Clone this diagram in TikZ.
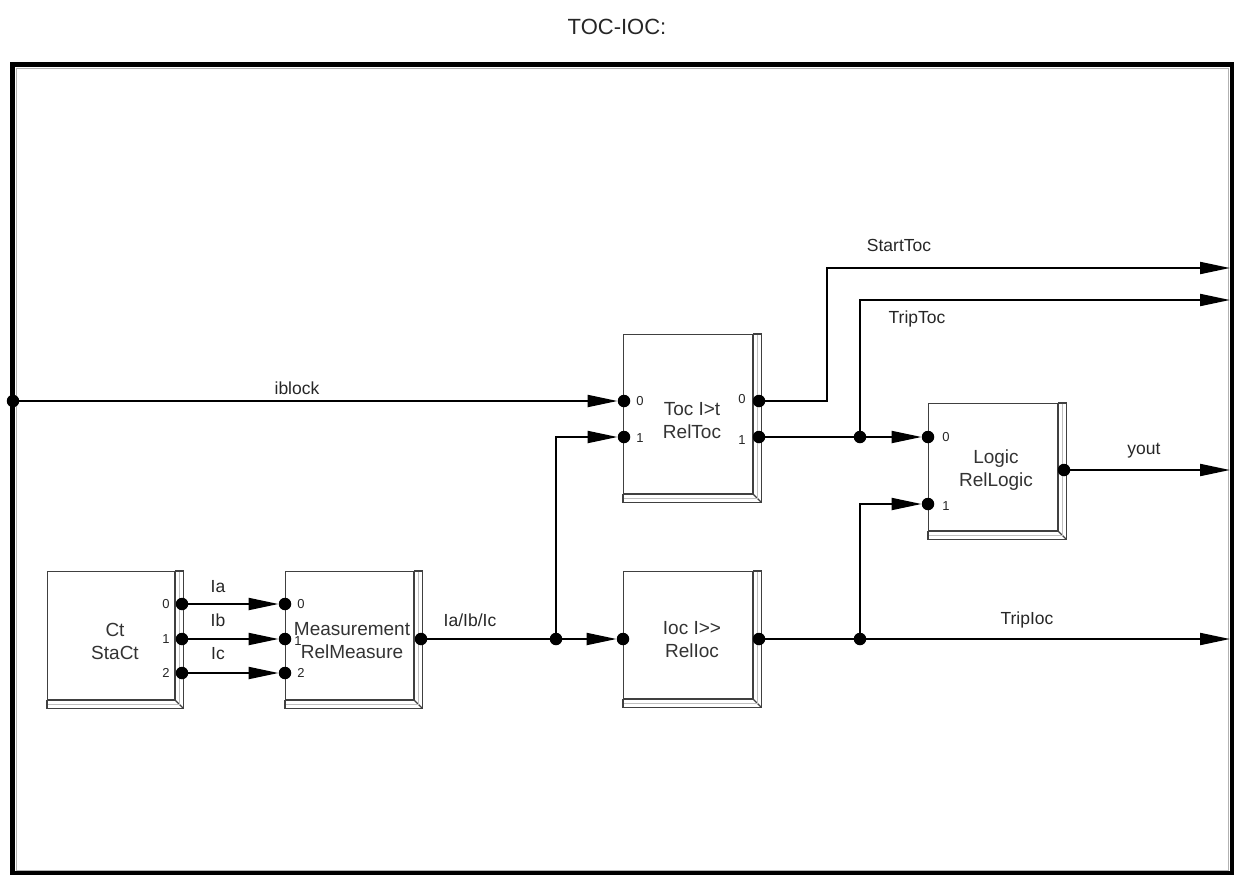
\documentclass[tikz,border=0pt]{standalone}
\usepackage{fontspec}
\setmainfont{Liberation Sans}
\usetikzlibrary{arrows.meta}
\begin{document}
\begin{tikzpicture}[x=1pt,y=-1pt,
  conn/.style={line width=2pt, draw=black},
  arr/.style={conn, -{Triangle[length=30pt,width=12pt]}},
  port/.style={circle, fill=black, inner sep=0pt, minimum size=12.5pt},
  block/.style={draw=black!75, line width=1.4pt, fill=white, inner sep=0pt, anchor=north west},
  shadow/.style={draw=black!75, line width=1.4pt},
  btext/.style={font=\fontsize{19}{23}\selectfont, text=black!80, align=center},
  lbl/.style={font=\fontsize{17.5}{20}\selectfont, text=black!85},
  plbl/.style={font=\fontsize{13}{14}\selectfont, text=black!85}
]
\useasboundingbox (0,0) rectangle (1234,875);

% title and frame
\node[font=\fontsize{22}{26}\selectfont, text=black!85] (title) at (617,27) {TOC-IOC:};
\draw[black!30, line width=1pt] (16.5,68.5) rectangle (1228.5,870);
\draw[line width=5pt] (12.5,64.5) rectangle (1232,873.5);

% blocks
\node[block, minimum width=127pt, minimum height=128pt] (ct)  at (47,571)  {};
\node[block, minimum width=128pt, minimum height=128pt] (me)  at (285,571) {};
\node[block, minimum width=129pt, minimum height=159pt] (toc) at (623,334) {};
\node[block, minimum width=129pt, minimum height=127pt] (ioc) at (623,571) {};
\node[block, minimum width=129pt, minimum height=127pt] (lg)  at (928,403) {};
\foreach \b in {ct,me,toc,ioc,lg}{
  \draw[shadow, fill=white] (\b.north east) -- ++(8,0) -- ([shift={(8,8)}]\b.south east)
     -- ([shift={(0,8)}]\b.south west) -- (\b.south west) -- (\b.south east) -- cycle;
  \draw[shadow] (\b.south east) -- ++(8,8);
  \draw[black!25, line width=0.8pt] ([shift={(4,1)}]\b.north east) -- ([shift={(4,4)}]\b.south east) -- ([shift={(1,4)}]\b.south west);
}

% block texts
\node[btext] (cttxt)  at (115,641) {Ct\\StaCt};
\node[btext] (metxt)  at (352,641) {Measurement\\RelMeasure};
\node[btext] (toctxt) at (692,421) {Toc I>t\\RelToc};
\node[btext] (ioctxt) at (692,640) {Ioc I>{}>\\RelIoc};
\node[btext] (lgtxt)  at (996,470) {Logic\\RelLogic};

% ports
\node[port] (ct0) at (182,604) {};
\node[port] (ct1) at (182,639) {};
\node[port] (ct2) at (182,673) {};
\node[port] (me0) at (285,604) {};
\node[port] (me1) at (285,639) {};
\node[port] (me2) at (285,673) {};
\node[port] (meo) at (421,639) {};
\node[port] (tocin0) at (624,401) {};
\node[port] (tocin1) at (624,437) {};
\node[port] (tocout0) at (759,401) {};
\node[port] (tocout1) at (759,437) {};
\node[port] (iocin) at (623,639) {};
\node[port] (iocout) at (759,639) {};
\node[port] (lgin0) at (928,437) {};
\node[port] (lgin1) at (928,504) {};
\node[port] (lgout) at (1064,470) {};
\node[port] (j1) at (556,639) {};
\node[port] (j2) at (860,437) {};
\node[port] (j3) at (860,639) {};
\node[port] (ib) at (13,401) {};

% port labels
\node[plbl] (lct0) at (166,604) {0};
\node[plbl] (lct1) at (166,639) {1};
\node[plbl] (lct2) at (166,673) {2};
\node[plbl] (lme0) at (301,604) {0};
\node[plbl] (lme1) at (298,641) {1};
\node[plbl] (lme2) at (301,673) {2};
\node[plbl] (ltin0) at (640,401) {0};
\node[plbl] (ltin1) at (640,438) {1};
\node[plbl] (ltout0) at (742,399) {0};
\node[plbl] (ltout1) at (742,440) {1};
\node[plbl] (llg0) at (946,437) {0};
\node[plbl] (llg1) at (946,506) {1};

% free ends at the frame
\coordinate (oStart) at (1230,268);
\coordinate (oTripToc) at (1230,300);
\coordinate (oYout) at (1230,470);
\coordinate (oTripIoc) at (1230,639);
\coordinate (bStart) at (827,268);

% connectors
\draw[arr] (ct0) -- (me0);
\draw[arr] (ct1) -- (me1);
\draw[arr] (ct2) -- (me2);
\draw[conn] (meo) -- (j1);
\draw[arr] (j1) -- (iocin);
\draw[arr] (j1) |- (tocin1);
\draw[arr] (ib) -- (tocin0);
\draw[arr] (tocout0) -| (bStart) -- (oStart);
\draw[conn] (tocout1) -- (j2);
\draw[arr] (j2) -- (lgin0);
\draw[arr] (j2) |- (oTripToc);
\draw[conn] (iocout) -- (j3);
\draw[arr] (j3) -- (oTripIoc);
\draw[arr] (j3) |- (lgin1);
\draw[arr] (lgout) -- (oYout);

% connector labels
\node[lbl] (lIa) at (218,587) {Ia};
\node[lbl] (lIb) at (218,620) {Ib};
\node[lbl] (lIc) at (218,654) {Ic};
\node[lbl] (lIabc) at (470,620) {Ia/Ib/Ic};
\node[lbl] (liblock) at (297,388) {iblock};
\node[lbl] (lstart) at (899,245) {StartToc};
\node[lbl] (ltriptoc) at (917,319) {TripToc};
\node[lbl] (lyout) at (1144,451) {yout};
\node[lbl] (ltripioc) at (1027,620) {TripIoc};
\end{tikzpicture}
\end{document}
